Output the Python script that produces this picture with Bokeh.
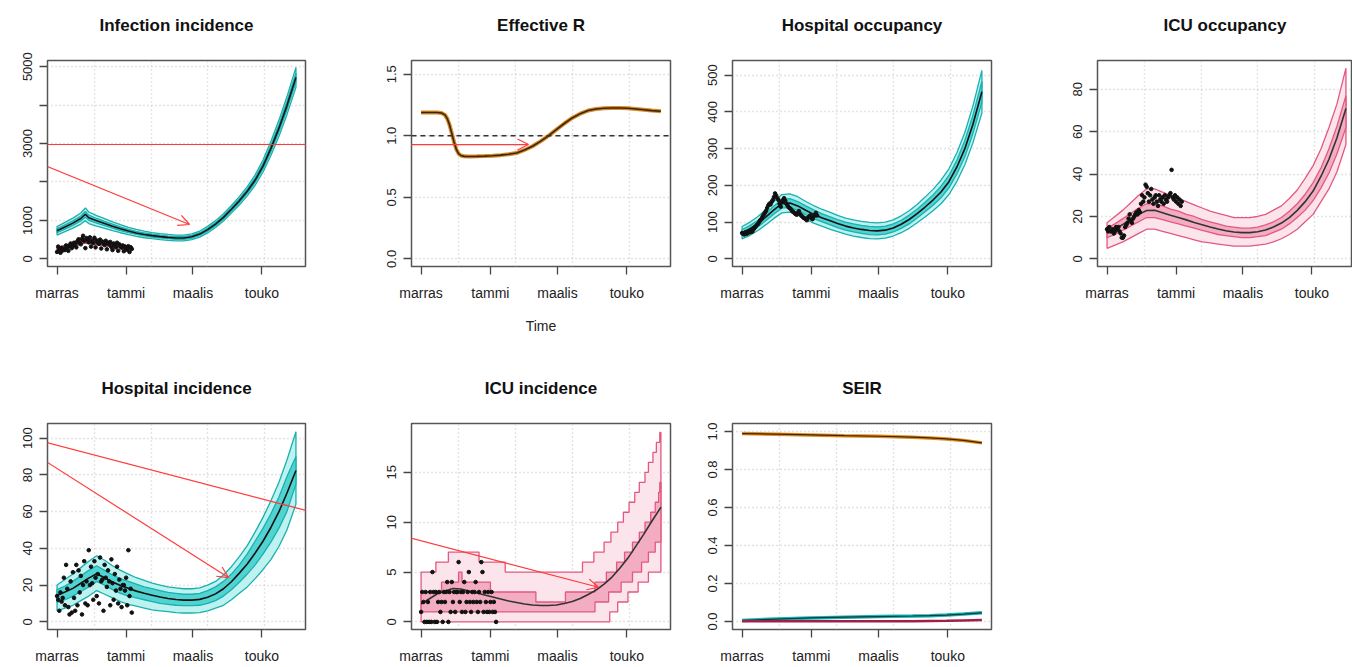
from bokeh.plotting import figure
from bokeh.layouts import row, column
from bokeh.models import Range1d, FixedTicker, Arrow, OpenHead, Span, PrintfTickFormatter, Title
from bokeh.embed import file_html
from bokeh.resources import INLINE

FONT = "Liberation Sans"

# ---------------- data ----------------
month_ticks = [0, 61, 120, 181]
month_labels = ["marras", "tammi", "maalis", "touko"]
grid_days = [33, 83, 133, 183]

obs_days = list(range(67))
days_w = [0, 7, 14, 21, 28, 35, 42, 49, 56, 63, 70, 77, 84, 91, 98, 105, 112, 119, 126, 133,
          140, 147, 154, 161, 168, 175, 182, 189, 196, 203, 211]

# Infection incidence
days_inf = [0, 7, 14, 21, 25, 28, 35, 42, 49, 56, 63, 70, 77, 84, 91, 98, 105, 112, 119, 126, 133,
            140, 147, 154, 161, 168, 175, 182, 189, 196, 203, 211]
inf_med = [730, 830, 930, 1050, 1160, 1070, 990, 920, 850, 785, 725, 675, 635, 605, 580, 560, 545, 545,
           575, 645, 760, 905, 1080, 1290, 1510, 1760, 2050, 2420, 2880, 3400, 3980, 4720]
inf_out_lo = [620, 710, 800, 905, 995, 920, 855, 795, 735, 680, 630, 585, 550, 525, 502, 484, 470, 470,
              499, 565, 675, 815, 985, 1190, 1400, 1640, 1915, 2260, 2695, 3190, 3745, 4460]
inf_out_hi = [840, 950, 1060, 1195, 1325, 1220, 1125, 1045, 965, 890, 820, 765, 720, 685, 658, 636, 620, 620,
              651, 725, 845, 995, 1175, 1390, 1620, 1880, 2185, 2580, 3065, 3610, 4215, 4980]
inf_in_lo = [680, 776, 872, 985, 1086, 1002, 929, 864, 798, 738, 682, 635, 597, 569, 545, 526, 511, 511,
             541, 609, 722, 865, 1037, 1245, 1460, 1706, 1989, 2348, 2797, 3305, 3874, 4603]
inf_in_hi = [780, 884, 988, 1115, 1234, 1138, 1051, 976, 902, 832, 768, 715, 673, 641, 615, 594, 579, 579,
             609, 681, 798, 945, 1123, 1335, 1560, 1814, 2111, 2492, 2963, 3495, 4086, 4837]
days_rep = [0, 7, 14, 21, 25, 28, 35, 42, 49, 56, 63, 66]
rep_med = [240, 300, 370, 440, 470, 460, 430, 395, 360, 325, 295, 285]
rep_lo = [200, 255, 320, 385, 415, 405, 378, 345, 312, 280, 252, 242]
rep_hi = [285, 350, 425, 500, 530, 520, 485, 448, 410, 372, 340, 330]
inf_obs = [180, 320, 250, 160, 290, 220, 260, 230, 350, 300, 210, 330, 400, 280, 350, 420, 380, 300, 460, 510,
           420, 380, 520, 600, 470, 280, 540, 500, 430, 560, 320, 470, 410, 550, 300, 480, 430, 390, 500, 270,
           450, 400, 360, 470, 250, 420, 380, 440, 310, 230, 400, 350, 300, 420, 210, 380, 330, 290, 350, 200,
           320, 280, 240, 330, 180, 300, 260]

# Effective R
days_r = [0, 7, 14, 18, 21, 23, 25, 27, 29, 31, 33, 35, 38, 42, 49, 56, 63, 70, 77, 84, 91, 98, 105, 112,
          119, 126, 133, 140, 147, 154, 161, 168, 175, 182, 189, 196, 203, 211]
r_eff = [1.19, 1.19, 1.19, 1.185, 1.17, 1.14, 1.09, 1.02, 0.95, 0.89, 0.855, 0.84, 0.833, 0.832, 0.833, 0.835,
         0.838, 0.843, 0.85, 0.86, 0.885, 0.915, 0.955, 1.0, 1.05, 1.1, 1.145, 1.18, 1.205, 1.218, 1.224,
         1.226, 1.226, 1.224, 1.218, 1.212, 1.205, 1.199]

# Hospital occupancy
hocc_med = [71, 82, 96, 114, 133, 150, 152, 144, 132, 121, 112, 104, 96, 89, 84, 80, 77, 76, 78, 84, 94, 107,
            123, 141, 160, 182, 210, 250, 300, 365, 455]
hocc_out_lo = [54, 64, 77, 93, 110, 125, 127, 119, 108, 97, 89, 81, 74, 67, 62, 58, 55, 54, 56, 62, 71, 83,
               98, 114, 131, 150, 175, 211, 256, 315, 397]
hocc_out_hi = [88, 100, 115, 135, 156, 175, 177, 169, 156, 145, 135, 127, 118, 111, 106, 102, 99, 98, 100,
               106, 117, 131, 148, 168, 189, 214, 245, 289, 344, 415, 513]
hocc_in_lo = [63, 73, 87, 104, 122, 138, 140, 132, 120, 109, 101, 93, 85, 78, 73, 69, 66, 65, 67, 73, 83, 95,
              111, 128, 146, 166, 193, 231, 278, 340, 426]
hocc_in_hi = [79, 91, 105, 124, 144, 162, 164, 156, 144, 133, 123, 115, 107, 100, 95, 91, 88, 87, 89, 95, 105,
              119, 135, 154, 174, 198, 227, 269, 322, 390, 484]
hocc_obs = [70, 68, 66, 72, 68, 70, 75, 72, 78, 74, 80, 84, 88, 92, 95, 100, 105, 108, 115, 120,
            125, 130, 138, 145, 150, 148, 155, 160, 168, 178, 172, 165, 160, 150, 142, 155, 160, 165, 158, 150,
            145, 140, 138, 135, 130, 128, 125, 122, 120, 125, 130, 122, 118, 115, 112, 110, 108, 105, 112, 115,
            118, 110, 108, 115, 120, 125, 118]

# ICU occupancy
iocc_med = [12.3, 14.0, 16.3, 18.6, 21.0, 22.8, 22.9, 21.8, 20.6, 19.5, 18.4, 17.2, 16.1, 15.0, 14.1, 13.3,
            12.7, 12.4, 12.4, 12.8, 13.6, 15.0, 16.9, 19.5, 22.9, 27, 32, 39, 47, 57, 71]
iocc_out_lo = [5, 6.5, 8, 10, 12, 14, 14, 13, 12, 11, 10, 9, 8, 7.5, 7, 6.5, 6, 6, 6, 6.5, 7, 8, 9.5, 11.5,
               14, 17.5, 21, 27, 33, 41, 54]
iocc_out_hi = [17, 20, 23, 26.5, 30, 33, 33, 31.5, 30, 28.5, 27, 25.5, 24, 22.5, 21.5, 20.5, 19.5, 19.5, 19.5,
               20, 21, 23, 25, 28.5, 32.5, 38, 44, 52, 62, 73, 90]
iocc_in_lo = [10, 11.5, 13.5, 15.5, 17.5, 19.5, 19.5, 18.5, 17.5, 16.5, 15.5, 14.5, 13.5, 12.5, 11.5, 11,
              10.5, 10, 10, 10.5, 11, 12.5, 14, 16.5, 19.5, 23, 27.5, 33.5, 40.5, 49.5, 62]
iocc_in_hi = [14.5, 16.5, 19, 21.5, 24, 26, 26, 25, 23.5, 22.5, 21, 20, 18.5, 17.5, 16.5, 15.5, 15, 14.5,
              14.5, 15, 16, 17.5, 19.5, 22.5, 26, 30.5, 36, 43, 52, 62.5, 77]
iocc_obs = [14, 13, 15, 13, 13, 14, 12, 13, 15, 14, 15, 13, 12, 10, 10, 11, 15, 16, 17, 19,
            21, 18, 17, 19, 20, 21, 22, 21, 23, 22, 26, 30, 27, 29, 35, 34, 31, 27, 30, 33,
            28, 26, 29, 30, 27, 25, 30, 28, 27, 29, 26, 30, 28, 27, 29, 30, 31, 42, 29, 28,
            30, 27, 29, 26, 28, 25, 27]

# Hospital incidence
hinc_med = [14.5, 16.2, 18.2, 21, 23.8, 26.2, 24, 21.7, 19.8, 18.2, 16.7, 15.5, 14.5, 13.5, 12.7, 12.1, 11.8,
            11.8, 12.2, 13.4, 15.2, 18, 21.8, 26.5, 31.5, 37.5, 44, 51.5, 60, 70, 82.4]
hinc_out_lo = [6, 7.5, 9, 11.5, 14, 17, 15, 13, 11, 9.5, 8.5, 7.5, 6.5, 6, 5.5, 5, 4.8, 4.8, 5, 6, 7.5, 9, 12,
               15.5, 19, 23.5, 28.5, 34, 41, 50, 64]
hinc_out_hi = [20, 23, 26, 29.5, 33, 36, 33.5, 30.5, 28, 26, 24, 22.5, 21, 20, 19, 18.5, 18, 18, 18.5, 20, 22,
               25.5, 30, 35.5, 41.5, 49, 57, 66, 76, 88, 103.5]
hinc_in_lo = [10.5, 12, 14, 16.5, 19, 22, 20, 17.5, 15.5, 14, 13, 12, 11, 10, 9.5, 9, 8.8, 8.8, 9, 10, 11.5,
              14, 17.5, 21.5, 26, 31, 37, 43.5, 51, 60, 75]
hinc_in_hi = [17.5, 19.5, 22, 25, 28, 30.5, 28, 25.5, 23.5, 22, 20.5, 19, 18, 17, 16, 15.5, 15, 15, 15.5, 17,
              19, 22, 26, 31, 37, 44, 51, 59, 68, 79, 90]
hinc_obs = [14, 12, 6, 16, 11, 13, 24, 9, 31, 18, 8, 4, 22, 5, 27, 13, 6, 31, 9, 28,
            16, 25, 4, 20, 33, 10, 22, 9, 39, 20, 30, 21, 12, 33, 24, 14, 26, 10, 35, 22,
            23, 6, 31, 24, 19, 28, 22, 9, 34, 21, 12, 26, 17, 30, 10, 23, 18, 8, 20, 20,
            17, 24, 9, 39, 14, 18, 5]

# ICU incidence (step quantiles)
iinc_med = [1.8, 2.3, 2.8, 3.1, 3.35, 3.3, 3.1, 2.9, 2.7, 2.5, 2.3, 2.1, 1.95, 1.8, 1.7, 1.65, 1.65, 1.7, 1.85,
            2.05, 2.35, 2.75, 3.2, 3.8, 4.5, 5.4, 6.4, 7.6, 8.8, 10.1, 11.5]
iinc_out_hi_start = [0, 13, 24, 51, 74, 142, 152, 161, 167, 173, 178, 183, 188, 192, 197, 200, 204, 207, 210]
iinc_out_hi_level = [5, 6, 7, 6, 5, 6, 7, 8, 9, 10, 11, 12, 13, 14, 15, 16, 17, 18, 19]
iinc_out_lo_start = [0, 166, 173, 182, 191, 200]
iinc_out_lo_level = [0, 1, 2, 3, 4, 5]
iinc_in_hi_start = [0, 18, 33, 36, 61, 101, 127, 153, 163, 172, 179, 186, 192, 197, 202, 206, 209, 210]
iinc_in_hi_level = [3, 4, 5, 4, 3, 2, 3, 4, 5, 6, 7, 8, 9, 10, 11, 12, 13, 14]
iinc_in_lo_start = [0, 153, 165, 176, 186, 194, 200, 206]
iinc_in_lo_level = [1, 2, 3, 4, 5, 6, 7, 8]
iinc_obs = [1, 3, 2, 0, 3, 0, 2, 0, 3, 0, 5, 3, 0, 3, 0, 2, 3, 1, 2, 0,
            3, 2, 3, 4, 0, 3, 1, 4, 2, 3, 1, 3, 3, 6, 2, 3, 1, 3, 4, 1,
            2, 3, 5, 2, 1, 3, 2, 3, 4, 2, 1, 3, 2, 6, 5, 1, 3, 2, 1, 3,
            1, 2, 3, 1, 2, 1, 0]
END_DAY = 211

# SEIR
days_seir = [0, 30, 60, 90, 120, 150, 165, 180, 195, 211]
seir_s = [0.989, 0.986, 0.982, 0.978, 0.975, 0.970, 0.966, 0.961, 0.953, 0.940]
seir_r = [0.006, 0.013, 0.019, 0.023, 0.026, 0.029, 0.031, 0.034, 0.039, 0.046]
seir_i = [0.001, 0.002, 0.001, 0.001, 0.001, 0.002, 0.003, 0.004, 0.006, 0.008]

# ---------------- styling ----------------
TEAL_EDGE = "#19B0AF"
TEAL_OUT = "#BDF2F1"
TEAL_IN = "#50D3D1"
PINK_EDGE = "#E4587F"
PINK_OUT = "#FBE4EB"
PINK_IN = "#F2ADC3"
RED = "#FF3B3B"
FRAME_H = 206
X0, X1 = -8.44, 219.44
PX_PER_DAY = 258 / (X1 - X0)


def make_fig(title, left, fw, right, top, bottom, yr, yticks, x_end=X1, fmt=None, hide=None):
    p = figure(title=None, frame_width=fw, frame_height=FRAME_H, x_range=Range1d(X0, x_end),
               y_range=Range1d(*yr), output_backend="svg", toolbar_location=None,
               min_border_left=left, min_border_right=right, min_border_top=top, min_border_bottom=bottom)
    # white spacer (closest to the frame) keeps the title well above the frame
    p.add_layout(Title(text=".", text_color="white", text_font_size="12px", standoff=15), "above")
    p.add_layout(Title(text=title, align="center", text_font=FONT, text_font_size="17px",
                       text_font_style="bold", text_color="#111", standoff=0), "above")
    p.outline_line_color = "#555"
    p.outline_line_width = 1.5
    p.background_fill_color = "white"
    p.border_fill_color = "white"
    p.xaxis.ticker = FixedTicker(ticks=month_ticks)
    p.xaxis.major_label_overrides = dict(zip(month_ticks, month_labels))
    p.yaxis.ticker = FixedTicker(ticks=yticks)
    if fmt:
        p.yaxis.formatter = PrintfTickFormatter(format=fmt)
    if hide:
        p.yaxis.major_label_overrides = {h: "" for h in hide}
    for ax in (p.xaxis, p.yaxis):
        ax.axis_line_color = None
        ax.major_tick_out = 8
        ax.major_tick_in = 0
        ax.major_tick_line_color = "#444"
        ax.major_tick_line_width = 1.3
        ax.minor_tick_line_color = None
        ax.major_label_text_font = FONT
        ax.major_label_text_color = "#222"
    p.xaxis.major_label_text_font_size = "14px"
    p.xaxis.major_label_standoff = 10
    p.yaxis.major_label_text_font_size = "13px"
    p.yaxis.major_label_orientation = "vertical"
    p.yaxis.major_label_standoff = 7
    p.xgrid.ticker = FixedTicker(ticks=grid_days)
    p.grid.grid_line_color = "#C8C8C8"
    p.grid.grid_line_dash = "1 3"
    p.grid.grid_line_width = 1.4
    return p


def band(p, x, lo, hi, fill, edge, width=1.3):
    xs = list(x) + list(x)[::-1]
    ys = list(hi) + list(lo)[::-1]
    p.patch(xs, ys, fill_color=fill, line_color=edge, line_width=width)


def steps(starts, levels, end):
    xs, ys = [], []
    for i, (s, l) in enumerate(zip(starts, levels)):
        e = starts[i + 1] if i + 1 < len(starts) else end
        xs += [s, e]
        ys += [l, l]
    return xs, ys


def step_band(p, hi_s, hi_l, lo_s, lo_l, fill, edge):
    hx, hy = steps(hi_s, hi_l, END_DAY)
    lx, ly = steps(lo_s, lo_l, END_DAY)
    p.patch(hx + lx[::-1], hy + ly[::-1], fill_color=fill, line_color=edge, line_width=1.3)


def dots(p, x, y):
    p.scatter(x, y, size=3.6, color="#111", line_color="#111")


def red_arrow(p, xs, ys, xe, ye, head=True):
    p.add_layout(Arrow(end=OpenHead(size=11, line_color=RED, line_width=1.2) if head else None,
                       x_start=xs, y_start=ys, x_end=xe, y_end=ye,
                       line_color=RED, line_width=1.2))


# ---------------- top row ----------------
p1 = make_fig("Infection incidence", 47, 258, 55, 60, 79, (-198, 5160),
              [0, 1000, 2000, 3000, 4000, 5000], hide=[2000, 4000])
band(p1, days_inf, inf_out_lo, inf_out_hi, TEAL_OUT, TEAL_EDGE)
band(p1, days_inf, inf_in_lo, inf_in_hi, TEAL_IN, TEAL_EDGE)
p1.line(days_inf, inf_med, line_color="#111", line_width=1.6)
band(p1, days_rep, rep_lo, rep_hi, "#E0709A", "#B8245E")
p1.line(days_rep, rep_med, line_color="#6A1232", line_width=1.4)
dots(p1, obs_days, inf_obs)
red_arrow(p1, -60, 2975, 320, 2975, head=False)
red_arrow(p1, -50, 2897, 117, 894)

p2 = make_fig("Effective R", 51, 259, 20, 60, 79, (-0.062, 1.612), [0, 0.5, 1.0, 1.5], fmt="%.1f")
p2.xaxis.axis_label = "Time"
p2.xaxis.axis_label_text_font = FONT
p2.xaxis.axis_label_text_font_size = "14px"
p2.xaxis.axis_label_text_font_style = "normal"
p2.xaxis.axis_label_text_color = "#222"
p2.xaxis.axis_label_standoff = 14
p2.add_layout(Span(location=1.0, dimension="width", line_color="#333", line_dash="5 4", line_width=1.5))
p2.line(days_r, r_eff, line_color="#D98A2B", line_width=4)
p2.line(days_r, r_eff, line_color="#3B2608", line_width=1.6)
red_arrow(p2, -100, 0.929, 94.5, 0.929)

p3 = make_fig("Hospital occupancy", 42, 259, 59, 60, 79, (-21, 540), [0, 100, 200, 300, 400, 500])
band(p3, days_w, hocc_out_lo, hocc_out_hi, TEAL_OUT, TEAL_EDGE)
band(p3, days_w, hocc_in_lo, hocc_in_hi, TEAL_IN, TEAL_EDGE)
p3.line(days_w, hocc_med, line_color="#111", line_width=1.6)
dots(p3, obs_days, hocc_obs)

FW4 = 255
p4 = make_fig("ICU occupancy", 47, FW4, 0, 60, 79, (-3.6, 93.6), [0, 20, 40, 60, 80],
              x_end=X0 + FW4 / PX_PER_DAY)
band(p4, days_w, iocc_out_lo, iocc_out_hi, PINK_OUT, PINK_EDGE)
band(p4, days_w, iocc_in_lo, iocc_in_hi, PINK_IN, PINK_EDGE)
p4.line(days_w, iocc_med, line_color="#333", line_width=1.6)
dots(p4, obs_days, iocc_obs)

# ---------------- bottom row ----------------
p5 = make_fig("Hospital incidence", 47, 258, 55, 78, 36, (-4.2, 108), [0, 20, 40, 60, 80, 100])
band(p5, days_w, hinc_out_lo, hinc_out_hi, TEAL_OUT, TEAL_EDGE)
band(p5, days_w, hinc_in_lo, hinc_in_hi, TEAL_IN, TEAL_EDGE)
p5.line(days_w, hinc_med, line_color="#111", line_width=1.6)
dots(p5, obs_days, hinc_obs)
red_arrow(p5, -50, 103.1, 151.4, 24.1)
red_arrow(p5, -50, 104.2, 321, 44.3, head=False)

p6 = make_fig("ICU incidence", 51, 259, 20, 78, 36, (-0.76, 19.9), [0, 5, 10, 15])
step_band(p6, iinc_out_hi_start, iinc_out_hi_level, iinc_out_lo_start, iinc_out_lo_level, PINK_OUT, PINK_EDGE)
step_band(p6, iinc_in_hi_start, iinc_in_hi_level, iinc_in_lo_start, iinc_in_lo_level, PINK_IN, PINK_EDGE)
p6.line(days_w, iinc_med, line_color="#333", line_width=1.6)
dots(p6, obs_days, iinc_obs)
red_arrow(p6, -70.9, 10.26, 156.1, 3.48)

p7 = make_fig("SEIR", 42, 259, 59, 78, 36, (-0.042, 1.042), [0, 0.2, 0.4, 0.6, 0.8, 1.0], fmt="%.1f")
p7.line(days_seir, seir_s, line_color="#E08A1E", line_width=3.5)
p7.line(days_seir, seir_s, line_color="#3B2608", line_width=1.2)
p7.line(days_seir, seir_r, line_color="#1CB3B2", line_width=3.5)
p7.line(days_seir, seir_r, line_color="#0B3B3B", line_width=1.2)
p7.line(days_seir, seir_i, line_color="#A0204A", line_width=2.5)

layout = column(row(p1, p2, p3, p4), row(p5, p6, p7))
open("out.html", "w").write(file_html(layout, INLINE))
